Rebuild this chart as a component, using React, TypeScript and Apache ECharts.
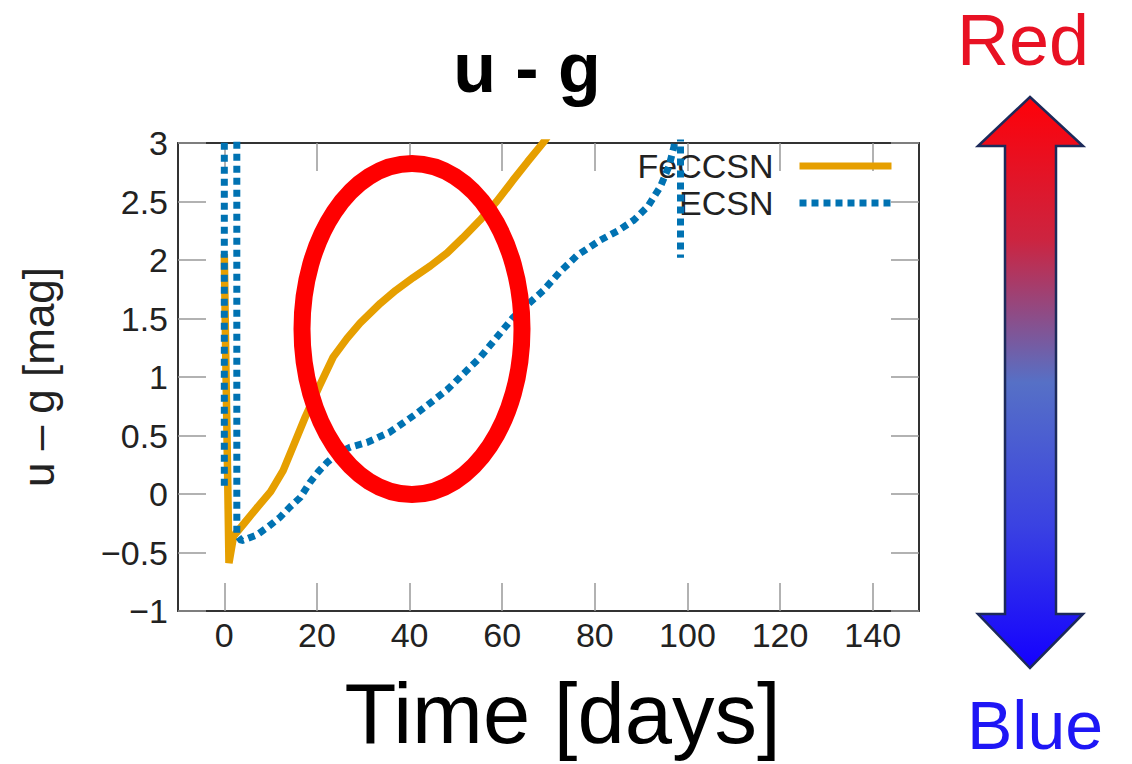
import React, { useEffect, useRef } from "react";
import * as echarts from "echarts";

const xTicks = [0, 20, 40, 60, 80, 100, 120, 140];
const yTicks = [-1, -0.5, 0, 0.5, 1, 1.5, 2, 2.5, 3];

const feccsnDays = [0, 0.3, 0.7, 1, 2, 4.3, 7, 10, 12.7, 15, 17.5, 20.5, 23.5, 26.5, 29.3, 33.7, 37, 40.8, 44.5, 48.1, 51.5, 55.2, 58.8, 62.3, 65.5, 68.8, 71];
const feccsnValues = [2.05, 1.2, 0.2, -0.59, -0.36, -0.25, -0.12, 0.02, 0.2, 0.42, 0.66, 0.92, 1.17, 1.33, 1.46, 1.63, 1.74, 1.85, 1.95, 2.06, 2.19, 2.34, 2.5, 2.68, 2.84, 3.0, 3.12];

const ecsnDays = [0, 0, 2.7, 2.7, 3.7, 7, 9.5, 12, 14.2, 16.4, 18.5, 20.3, 22.2, 24.5, 27.2, 30.8, 35.8, 41.6, 48.1, 55.3, 62.4, 68.9, 72.5, 76.2, 81.2, 85, 88.4, 91.5, 94.2, 96, 97.1, 98, 98.5, 98.5];
const ecsnValues = [0.07, 4, 4, -0.35, -0.4, -0.35, -0.28, -0.2, -0.11, -0.03, 0.1, 0.19, 0.27, 0.35, 0.4, 0.44, 0.53, 0.69, 0.89, 1.17, 1.51, 1.74, 1.9, 2.04, 2.17, 2.25, 2.34, 2.46, 2.63, 2.8, 2.97, 3.3, 3.3, 2.02];

const seriesNames = ["FeCCSN", "ECSN"];

const FONT = "'Liberation Sans', Arial, Helvetica, sans-serif";

function zip(xs: number[], ys: number[]) {
  return xs.map((x, i) => [x, ys[i]]);
}

const fmtY = (v: number) => String(v).replace("-", "\u2212");

export default function App() {
  const ref = useRef<HTMLDivElement>(null);

  useEffect(() => {
    if (!ref.current) return;
    const chart = echarts.init(ref.current, undefined, { renderer: "svg" });

    const frame = { show: true, onZero: false, lineStyle: { color: "#333", width: 2 } };
    const tick = { show: true, inside: true, length: 28, lineStyle: { color: "#999", width: 1.5 } };

    const option: any = {
      animation: false,
      backgroundColor: "#fff",
      title: {
        text: "u - g",
        left: 522,
        top: 28,
        textAlign: "center",
        textStyle: { fontFamily: FONT, fontSize: 70, fontWeight: "bold", color: "#000" },
      },
      legend: {
        orient: "vertical",
        right: 232,
        top: 144,
        align: "right",
        itemWidth: 92,
        itemHeight: 14,
        itemGap: 3,
        itemStyle: { opacity: 0 },
        lineStyle: { width: 7 },
        textStyle: { fontFamily: FONT, fontSize: 34, color: "#222", padding: [0, 21, 0, 0] },
        data: seriesNames,
      },
      grid: { left: 178, top: 143, right: 213, bottom: 153, containLabel: false },
      xAxis: [
        {
          type: "value",
          min: -10,
          max: 150,
          axisLine: frame,
          axisTick: { ...tick, customValues: xTicks },
          axisLabel: {
            customValues: xTicks,
            margin: 7,
            fontFamily: FONT,
            fontSize: 34,
            color: "#222",
          },
          splitLine: { show: false },
          name: "Time [days]",
          nameLocation: "middle",
          nameGap: 60,
          nameTextStyle: { fontFamily: FONT, fontSize: 85, color: "#000", padding: [0, 0, 0, 28] },
        },
        {
          type: "value",
          position: "top",
          min: -10,
          max: 150,
          axisLine: frame,
          axisTick: { ...tick, customValues: xTicks },
          axisLabel: { show: false },
          splitLine: { show: false },
        },
      ],
      yAxis: [
        {
          type: "value",
          min: -1,
          max: 3,
          interval: 0.5,
          axisLine: frame,
          axisTick: tick,
          axisLabel: { margin: 10, fontFamily: FONT, fontSize: 34, color: "#222", formatter: fmtY },
          splitLine: { show: false },
          name: "u \u2013 g [mag]",
          nameLocation: "middle",
          nameGap: 118,
          nameTextStyle: { fontFamily: FONT, fontSize: 44, color: "#222" },
        },
        {
          type: "value",
          position: "right",
          min: -1,
          max: 3,
          interval: 0.5,
          axisLine: frame,
          axisTick: tick,
          axisLabel: { show: false },
          splitLine: { show: false },
        },
      ],
      series: [
        {
          name: seriesNames[0],
          type: "line",
          data: zip(feccsnDays, feccsnValues),
          showSymbol: false,
          symbol: "none",
          clip: true,
          smooth: false,
          lineStyle: { color: "#e69f00", width: 7.5 },
          itemStyle: { color: "#e69f00" },
          z: 3,
        },
        {
          name: seriesNames[1],
          type: "line",
          data: zip(ecsnDays, ecsnValues),
          showSymbol: false,
          symbol: "none",
          clip: true,
          smooth: false,
          lineStyle: { color: "#0072b2", width: 7, type: [7, 5], cap: "butt" },
          itemStyle: { color: "#0072b2" },
          z: 4,
        },
      ],
      graphic: [
        {
          type: "ellipse",
          shape: { cx: 412, cy: 329, rx: 110, ry: 165.5 },
          style: { fill: "none", stroke: "#ff0000", lineWidth: 17 },
          z: 100,
        },
        {
          type: "polygon",
          shape: {
            points: [
              [1030, 97],
              [1083, 146],
              [1056, 146],
              [1056, 614],
              [1083, 614],
              [1030, 668],
              [978, 614],
              [1005, 614],
              [1005, 146],
              [978, 146],
            ],
          },
          style: {
            fill: new echarts.graphic.LinearGradient(0, 0, 0, 1, [
              { offset: 0, color: "#ff0008" },
              { offset: 0.25, color: "#cc2440" },
              { offset: 0.5, color: "#5670c6" },
              { offset: 0.75, color: "#3a42e2" },
              { offset: 1, color: "#1400ff" },
            ]),
            stroke: "#1c2a5a",
            lineWidth: 2.5,
          },
          z: 100,
        },
        {
          type: "text",
          x: 1023,
          y: 40,
          style: {
            text: "Red",
            fontFamily: FONT,
            fontSize: 72,
            fill: "#e81123",
            textAlign: "center",
            textVerticalAlign: "middle",
          },
          z: 100,
        },
        {
          type: "text",
          x: 1035,
          y: 725,
          style: {
            text: "Blue",
            fontFamily: FONT,
            fontSize: 68,
            fill: "#1e16f5",
            textAlign: "center",
            textVerticalAlign: "middle",
          },
          z: 100,
        },
      ],
    };

    chart.setOption(option);
    return () => chart.dispose();
  }, []);

  return (
    <div
      ref={ref}
      style={{ position: "fixed", left: 0, top: 0, width: 1132, height: 764, background: "#fff" }}
    />
  );
}
